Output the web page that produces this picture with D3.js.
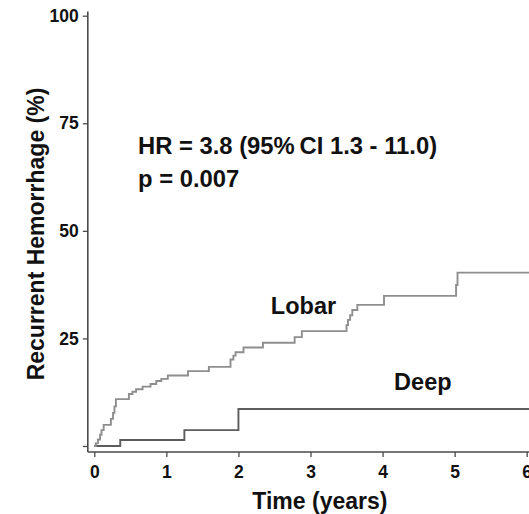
<!DOCTYPE html>
<html>
<head>
<meta charset="utf-8">
<script src="https://cdn.jsdelivr.net/npm/d3@7"></script>
<style>
  html, body { margin: 0; padding: 0; background: #fff; }
  svg { display: block; }
  text { font-family: "Liberation Sans", Arial, Helvetica, sans-serif; font-weight: bold; fill: #111; }
</style>
</head>
<body>
<svg id="chart" width="529" height="514"></svg>
<script>
// Cumulative recurrent hemorrhage (%) by time since index bleed, step functions
const lobarTime = [0, 0.02, 0.05, 0.08, 0.10, 0.13, 0.23, 0.26, 0.28, 0.30, 0.48, 0.53, 0.58, 0.67, 0.78, 0.86, 0.93, 1.02, 1.30, 1.59, 1.89, 1.93, 1.96, 2.07, 2.34, 2.78, 2.88, 3.50, 3.52, 3.55, 3.58, 3.65, 4.02, 5.02, 5.04, 6.05];
const lobarRisk = [0, 0.6, 1.5, 2.6, 3.7, 4.9, 6.3, 7.7, 9.2, 10.9, 12.1, 12.6, 13.2, 13.8, 14.4, 15.1, 15.6, 16.4, 17.4, 18.4, 20.1, 21.0, 21.8, 22.9, 24.0, 25.3, 26.7, 28.1, 29.3, 30.4, 31.6, 32.8, 34.9, 37.4, 40.3, 40.3];
const deepTime = [0, 0.36, 1.25, 2.00, 6.05];
const deepRisk = [0, 1.4, 3.7, 8.6, 8.6];

const xTicks = [0, 1, 2, 3, 4, 5, 6];
const yTicks = [0, 25, 50, 75, 100];

const annotationLines = ["HR = 3.8 (95%\u2009CI 1.3 - 11.0)", "p = 0.007"];
const seriesLabels = [
  { name: "Lobar", t: 2.45, v: 30.7 },
  { name: "Deep", t: 4.16, v: 13.0 }
];

const svg = d3.select("#chart");
const W = 529, H = 514;

const x = d3.scaleLinear().domain([0, 6]).range([94.3, 526.7]);
const y = d3.scaleLinear().domain([0, 100]).range([446, 15.7]);

const axisColor = "#4a4a4a";
const xAxisY = y(-1.4);
const yAxisX = x(-0.09);

// Y axis
const yAxis = svg.append("g")
  .attr("transform", `translate(${yAxisX},0)`)
  .call(d3.axisLeft(y).tickValues(yTicks).tickFormat(d => d === 0 ? "" : d)
    .tickSize(5).tickSizeOuter(0).tickPadding(4));
yAxis.select(".domain").remove();
yAxis.selectAll(".tick line").attr("stroke", axisColor).attr("stroke-width", 1.3);
yAxis.selectAll(".tick text").style("font-size", "17.5px").attr("fill", "#111");
svg.append("line")
  .attr("x1", yAxisX).attr("x2", yAxisX)
  .attr("y1", y(101)).attr("y2", xAxisY)
  .attr("stroke", axisColor).attr("stroke-width", 1.6);

// X axis
const xAxis = svg.append("g")
  .attr("transform", `translate(0,${xAxisY})`)
  .call(d3.axisBottom(x).tickValues(xTicks).tickFormat(d3.format("d"))
    .tickSize(5).tickSizeOuter(0).tickPadding(9));
xAxis.select(".domain").remove();
xAxis.selectAll(".tick line").attr("stroke", axisColor).attr("stroke-width", 1.3);
xAxis.selectAll(".tick text").style("font-size", "17.5px").attr("fill", "#111");
svg.append("line")
  .attr("x1", yAxisX).attr("x2", W + 2)
  .attr("y1", xAxisY).attr("y2", xAxisY)
  .attr("stroke", axisColor).attr("stroke-width", 1.6);

// Axis titles
svg.append("text")
  .attr("x", x(3.13)).attr("y", 508.5)
  .attr("text-anchor", "middle")
  .style("font-size", "23px")
  .text("Time (years)");

svg.append("text")
  .attr("transform", `translate(44,${234}) rotate(-90)`)
  .attr("text-anchor", "middle")
  .style("font-size", "23px")
  .text("Recurrent Hemorrhage (%)");

// Step curves
const step = d3.line()
  .x(d => x(d[0]))
  .y(d => y(d[1]))
  .curve(d3.curveStepAfter);

svg.append("path")
  .datum(deepTime.map((t, i) => [t, deepRisk[i]]))
  .attr("d", step)
  .attr("fill", "none")
  .attr("stroke", "#5c5c5c")
  .attr("stroke-width", 1.9);

svg.append("path")
  .datum(lobarTime.map((t, i) => [t, lobarRisk[i]]))
  .attr("d", step)
  .attr("fill", "none")
  .attr("stroke", "#8e8e8e")
  .attr("stroke-width", 1.9);

// Series labels
svg.selectAll("text.series")
  .data(seriesLabels)
  .join("text")
  .attr("class", "series")
  .attr("x", d => x(d.t))
  .attr("y", d => y(d.v))
  .style("font-size", "23.5px")
  .text(d => d.name);

// Hazard ratio annotation
svg.selectAll("text.note")
  .data(annotationLines)
  .join("text")
  .attr("class", "note")
  .attr("x", 138)
  .attr("y", (d, i) => 154 + i * 33)
  .style("font-size", "23.8px")
  .text(d => d);
</script>
</body>
</html>
